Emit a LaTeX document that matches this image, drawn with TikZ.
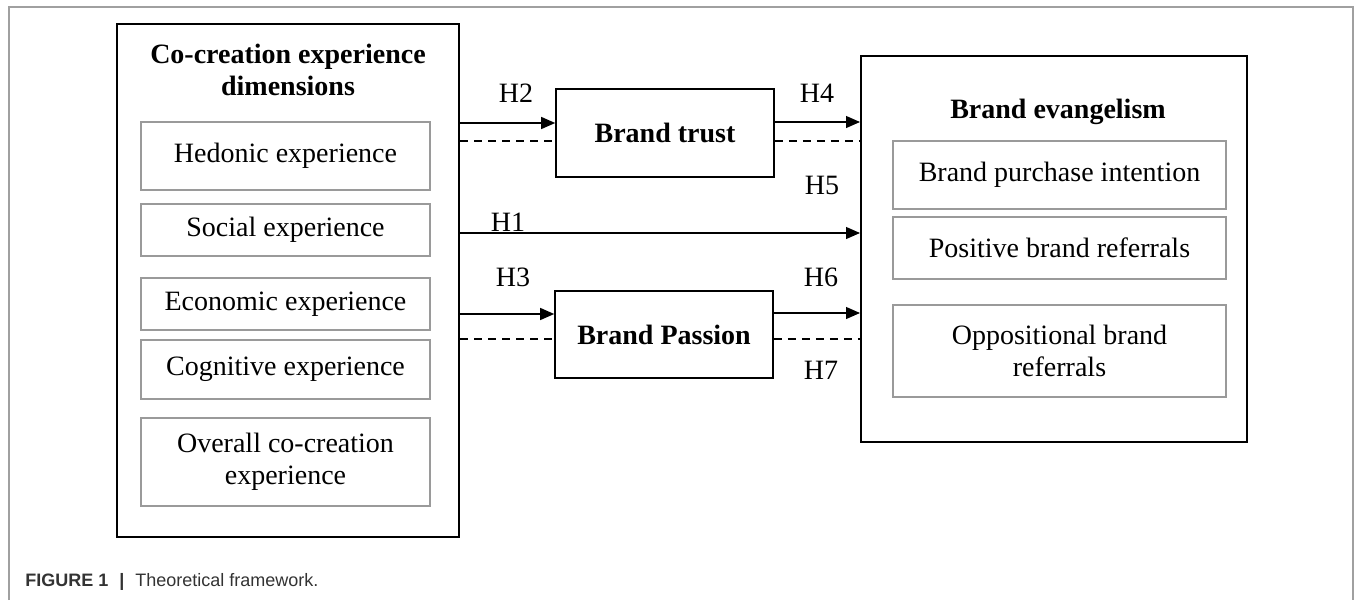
\documentclass[tikz,border=0pt]{standalone}
\usepackage{fontspec}
\setmainfont{Liberation Serif}
\setsansfont{Liberation Sans}
\usetikzlibrary{arrows.meta}
\definecolor{framegray}{HTML}{A0A0A0}
\definecolor{boxgray}{HTML}{9A9A9A}
\definecolor{captext}{HTML}{333333}
\tikzset{
  outerbox/.style={draw=black, line width=1pt, inner sep=0pt},
  innerbox/.style={draw=boxgray, line width=0.75pt, inner sep=0pt, align=center, font=\fontsize{14}{16}\selectfont},
  midbox/.style={draw=black, line width=0.8pt, inner sep=0pt, font=\fontsize{14}{16}\selectfont\bfseries},
  titletext/.style={align=center, font=\fontsize{14}{16}\selectfont\bfseries, inner sep=0pt},
  hlabel/.style={font=\fontsize{14}{16}\selectfont, inner sep=0pt},
  arr/.style={line width=0.6pt, -{Triangle[length=7pt, width=6pt]}},
  dashline/.style={line width=0.6pt, dash pattern=on 4pt off 3pt},
}
\begin{document}
\begin{tikzpicture}[x=0.5pt, y=-0.5pt]
\useasboundingbox (0,0) rectangle (1355,600);
% outer frame
\draw[framegray, line width=0.75pt] (9,600) -- (9,7) -- (1353,7) -- (1353,600);

% left box
\node[outerbox, minimum width=171pt, minimum height=256.5pt] (L) at (288,280.5) {};
\node[titletext] (Ltitle) at (288,70) {Co-creation experience\\dimensions};
\node[innerbox, minimum width=144.5pt, minimum height=34pt] (hed) at (285.5,156) {Hedonic experience};
\node[innerbox, minimum width=144.5pt, minimum height=26pt] (soc) at (285.5,230) {Social experience};
\node[innerbox, minimum width=144.5pt, minimum height=26pt] (eco) at (285.5,304) {Economic experience};
\node[innerbox, minimum width=144.5pt, minimum height=29.5pt] (cog) at (285.5,369.5) {Cognitive experience};
\node[innerbox, minimum width=144.5pt, minimum height=44pt] (ove) at (285.5,462) {Overall co-creation\\experience};

% middle boxes
\node[midbox, minimum width=109pt, minimum height=44pt] (T) at (665,133) {Brand trust};
\node[midbox, minimum width=109pt, minimum height=43.5pt] (P) at (664,334.5) {Brand Passion};

% right box
\node[outerbox, minimum width=193pt, minimum height=193pt] (R) at (1054,249) {};
\node[titletext] (Rtitle) at (1058,112) {Brand evangelism};
\node[innerbox, minimum width=166.5pt, minimum height=34pt] (pur) at (1059.5,175) {Brand purchase intention};
\node[innerbox, minimum width=166.5pt, minimum height=31pt] (pos) at (1059.5,248) {Positive brand referrals};
\node[innerbox, minimum width=166.5pt, minimum height=46pt] (opp) at (1059.5,351) {Oppositional brand\\referrals};

% helper y-levels
\coordinate (y123) at (0,123);
\coordinate (y122) at (0,122);
\coordinate (y141) at (0,141);
\coordinate (y233) at (0,233);
\coordinate (y314) at (0,314);
\coordinate (y313) at (0,313);
\coordinate (y339) at (0,339);

% connectors
\draw[arr] (L.east |- y123) -- (T.west |- y123);
\draw[dashline] (L.east |- y141) -- (T.west |- y141);
\draw[arr] (T.east |- y122) -- (R.west |- y122);
\draw[dashline] (T.east |- y141) -- (R.west |- y141);
\draw[arr] (L.east |- y233) -- (R.west |- y233);
\draw[arr] (L.east |- y314) -- (P.west |- y314);
\draw[dashline] (L.east |- y339) -- (P.west |- y339);
\draw[arr] (P.east |- y313) -- (R.west |- y313);
\draw[dashline] (P.east |- y339) -- (R.west |- y339);

% labels
\node[hlabel] (h2) at (516,93) {H2};
\node[hlabel] (h4) at (817,93) {H4};
\node[hlabel] (h5) at (822,185) {H5};
\node[hlabel] (h1) at (508,222) {H1};
\node[hlabel] (h3) at (513,277) {H3};
\node[hlabel] (h6) at (821,277) {H6};
\node[hlabel] (h7) at (821,370) {H7};

% caption
\node[anchor=west, inner sep=0pt, text=captext, font=\sffamily\fontsize{9}{11}\selectfont] (cap) at (25,582)
  {{\bfseries FIGURE 1}\hspace{5.5pt}{\bfseries|}\hspace{5.5pt}Theoretical framework.};
\end{tikzpicture}
\end{document}
